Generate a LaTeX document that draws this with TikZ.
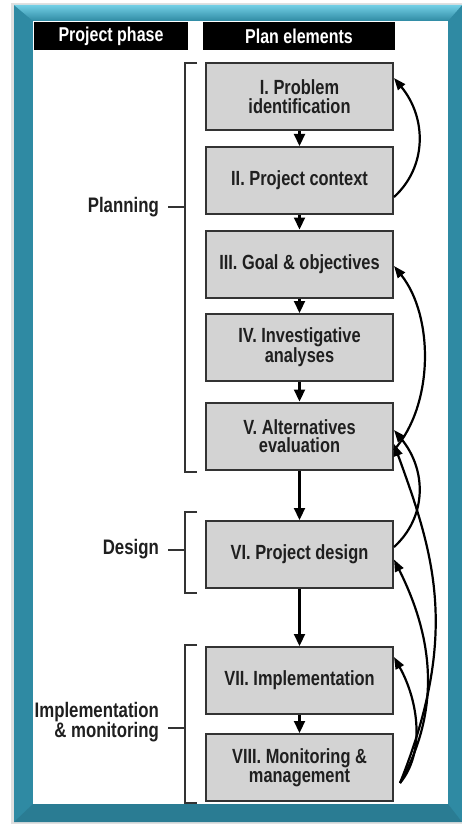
\documentclass[tikz,border=0pt]{standalone}
\usepackage{fontspec}
\setmainfont{Liberation Sans}[FakeStretch=0.8]
\usetikzlibrary{arrows.meta}
\definecolor{tealmain}{HTML}{2F8AA3}
\definecolor{teallight}{HTML}{72CFE5}
\definecolor{tealdark}{HTML}{2A7C93}
\definecolor{boxgray}{HTML}{D3D3D3}
\definecolor{boxedge}{HTML}{333333}
\tikzset{
  plan/.style={draw=boxedge, line width=2pt, fill=boxgray, minimum width=187pt,
    minimum height=67pt, inner sep=0pt, align=center,
    font=\fontsize{20.5}{18.5}\selectfont\bfseries, text=black!88},
  head/.style={fill=black, text=white, inner sep=0pt, minimum height=28pt,
    font=\fontsize{20}{19}\selectfont\bfseries},
  down/.style={line width=2.2pt, draw=black, -{Triangle[length=12pt,width=11pt]}},
  back/.style={line width=2.2pt, draw=black, -{Triangle[length=12pt,width=9pt]}},
  brk/.style={line width=1.4pt, draw=black!80},
  phase/.style={font=\fontsize{21}{19}\selectfont\bfseries, align=right, anchor=east,
    inner sep=0pt, text=black!88}
}
\begin{document}
\begin{tikzpicture}[x=1pt,y=-1pt]
\useasboundingbox (0,0) rectangle (462,824);
% frame
\fill[black!12] (11,3) rectangle (462,824);
\fill[tealmain] (14,5) rectangle (462,822);
\shade[top color=teallight, bottom color=tealmain] (14,5) -- (462,5) -- (448,21) -- (33,21) -- cycle;
\fill[tealdark] (14,822) -- (462,822) -- (448,804) -- (33,804) -- cycle;
\fill[white] (33,21) rectangle (448,804);
% headers
\node[head, minimum width=154pt] (hp) at (111,36) {Project phase};
\node[head, minimum width=192pt] (he) at (299,36) {Plan elements};
% boxes
\node[plan] (I) at (299.5,96.5) {I. Problem\\identification};
\node[plan] (II) at (299.5,180.5) {II. Project context};
\node[plan] (III) at (299.5,264) {III. Goal \& objectives};
\node[plan] (IV) at (299.5,347.5) {IV. Investigative\\analyses};
\node[plan] (V) at (299.5,436) {V. Alternatives\\evaluation};
\node[plan] (VI) at (299.5,554.5) {VI. Project design};
\node[plan] (VII) at (299.5,680.5) {VII. Implementation};
\node[plan] (VIII) at (299.5,767.5) {VIII. Monitoring \&\\management};
% down arrows
\draw[down] (I) -- (II);
\draw[down] (II) -- (III);
\draw[down] (III) -- (IV);
\draw[down] (IV) -- (V);
\draw[down] (V) -- (VI);
\draw[down] (VI) -- (VII);
\draw[down] (VII) -- (VIII);
% feedback arrows
\draw[back] ([yshift=-16.5pt]II.east) .. controls +(33,-30) and +(33,40) .. ([yshift=18.5pt]I.east);
\draw[back] ([yshift=-14pt]V.east) .. controls +(40,-45) and +(40,50) .. ([yshift=-2pt]III.east);
\draw[back] ([yshift=7.5pt]VI.east) .. controls +(33,-30) and +(33,40) .. ([yshift=6pt]V.east);
\coordinate (m) at ([xshift=6pt,yshift=-15.5pt]VIII.east);
\draw[back] (m) .. controls +(25,-30) and +(25,45) .. ([yshift=23.5pt]VII.east);
\draw[back] (m) .. controls +(45,-80) and +(35,70) .. ([yshift=-5pt]VI.east);
\draw[back] (m) .. controls +(60,-150) and +(40,110) .. ([yshift=-8pt]V.east);
% brackets
\draw[brk] (197,63) -- (185,63) -- (185,472) -- (197,472);
\draw[brk] (185,207) -- (168,207);
\node[phase] (pl) at (159,207) {Planning};
\draw[brk] (197,512) -- (185,512) -- (185,593) -- (197,593);
\draw[brk] (185,550) -- (168,550);
\node[phase] (de) at (159,549) {Design};
\draw[brk] (197,645) -- (185,645) -- (185,803) -- (197,803);
\draw[brk] (185,728) -- (168,728);
\node[phase] (im) at (159,722) {Implementation\\\& monitoring};
\end{tikzpicture}
\end{document}
